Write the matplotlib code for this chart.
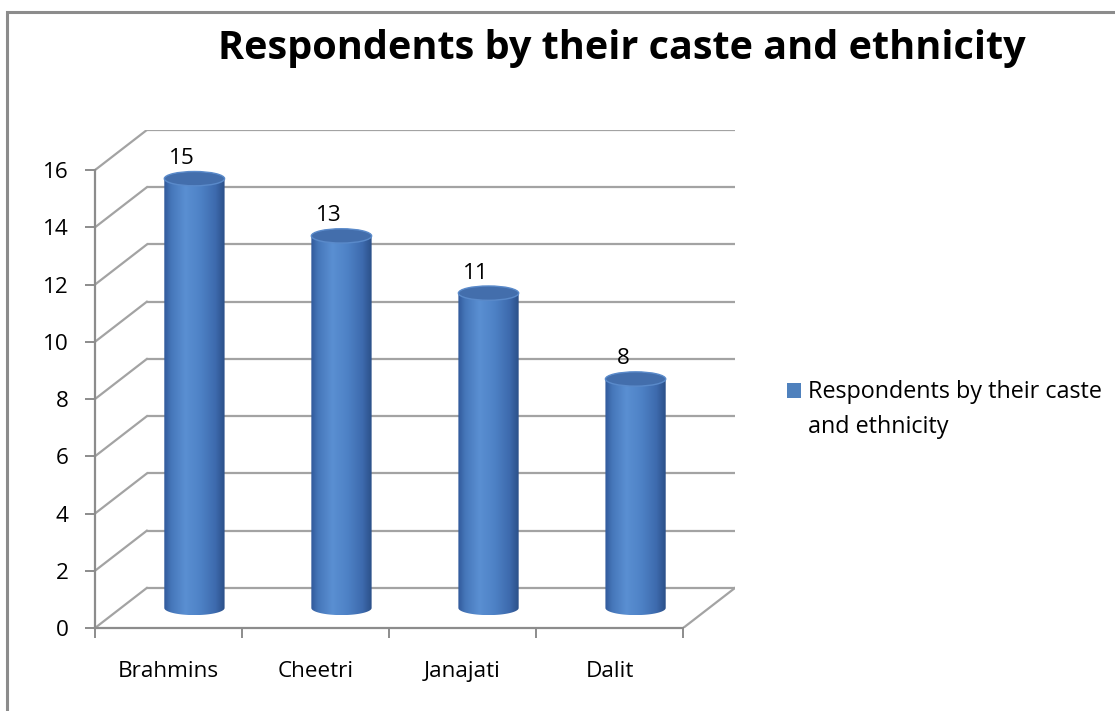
import numpy as np
import matplotlib
matplotlib.use("Agg")
import matplotlib.pyplot as plt
from matplotlib.patches import Ellipse, PathPatch, Rectangle
from matplotlib.path import Path
from matplotlib.colors import LinearSegmentedColormap

# ---------------- data ----------------
categories = ["Brahmins", "Cheetri", "Janajati", "Dalit"]
values = [15, 13, 11, 8]
yticks = [0, 2, 4, 6, 8, 10, 12, 14, 16]
title = "Respondents by their caste and ethnicity"
series_name = "Respondents by their caste\nand ethnicity"

# ---------------- style ----------------
FONT = ["Open Sans", "DejaVu Sans"]
plt.rcParams["font.family"] = FONT
DX = 0.3525      # depth offset in category units
DY = 1.4         # depth offset in value units
BW = 0.41        # cylinder width (category units)
EH = 0.5         # ellipse height (value units)
GRID = "#a3a3a3"
FS = 16.2

fig = plt.figure(figsize=(11.15, 7.11), dpi=100)
fig.patch.set_facecolor("white")

# outer chart border
fig.add_artist(Rectangle((7 / 1115, -0.05), 1.2, 1 - 12 / 711 + 0.05,
                         transform=fig.transFigure, fill=False,
                         edgecolor="#8c8c8c", lw=2.2))

ax = fig.add_axes([95 / 1115, (711 - 628) / 711, 640 / 1115, 498 / 711])
ax.set_facecolor("none")
n = len(categories)
xmin, xmax = -0.5, n - 0.5 + DX
ymin, ymax = 0, max(yticks) + DY

# back wall & side wall gridlines
for v in yticks:
    ax.plot([xmin + DX, xmax], [v + DY, v + DY], color=GRID, lw=1.6,
            solid_capstyle="butt", zorder=1)
    ax.plot([xmin, xmin + DX], [v, v + DY], color=GRID, lw=1.6, zorder=1)
# floor right edge
ax.plot([n - 0.5, n - 0.5 + DX], [0, DY], color=GRID, lw=1.6, zorder=1)

# cylinders
cmap = LinearSegmentedColormap.from_list(
    "cyl", [(0.0, "#31599a"), (0.12, "#4677ba"), (0.35, "#5a8fd2"),
            (0.6, "#4e82c6"), (0.85, "#3d6aad"), (1.0, "#2b4f88")])
grad = np.linspace(0, 1, 256).reshape(1, -1)
t = np.linspace(np.pi, 2 * np.pi, 60)
for i, v in enumerate(values):
    cx = i + DX / 2
    base = DY / 2
    top = v + DY / 2
    l, r = cx - BW / 2, cx + BW / 2
    verts = [(l, top), (l, base)]
    verts += [(cx + BW / 2 * np.cos(a), base + EH / 2 * np.sin(a)) for a in t]
    verts += [(r, top), (l, top)]
    codes = [Path.MOVETO] + [Path.LINETO] * (len(verts) - 2) + [Path.CLOSEPOLY]
    body = PathPatch(Path(verts, codes), facecolor="none", edgecolor="none",
                     zorder=3)
    ax.add_patch(body)
    im = ax.imshow(grad, cmap=cmap, aspect="auto",
                   extent=[l, r, base - EH / 2, top], zorder=3,
                   interpolation="bicubic")
    im.set_clip_path(body)
    ax.add_patch(Ellipse((cx, top), BW, EH, facecolor="#436eac",
                         edgecolor="#5a8aca", lw=1.0, zorder=4))
    ax.text(i + 0.09, v + DY, str(v), ha="center", va="center",
            fontsize=FS, color="black", zorder=5)

ax.set_xlim(xmin, xmax)
ax.set_ylim(ymin, ymax)

# axes
for s in ["top", "right"]:
    ax.spines[s].set_visible(False)
ax.spines["left"].set_bounds(0, max(yticks))
ax.spines["bottom"].set_bounds(-0.5, n - 0.5)
ax.spines["left"].set_color("#8c8c8c")
ax.spines["bottom"].set_color("#8c8c8c")
ax.spines["left"].set_linewidth(1.6)
ax.spines["bottom"].set_linewidth(1.6)

ax.set_yticks(yticks)
ax.set_yticklabels([str(v) for v in yticks], fontsize=FS)
ax.tick_params(axis="y", length=7, width=1.4, color="#8c8c8c", pad=12)
ax.set_xticks(np.arange(-0.5, n, 1.0))
ax.set_xticklabels([""] * (n + 1))
ax.set_xticks(np.arange(n), minor=True)
ax.set_xticklabels(categories, minor=True, fontsize=FS)
ax.tick_params(axis="x", which="major", length=7, width=1.4, color="#8c8c8c")
ax.tick_params(axis="x", which="minor", length=0, pad=24)

# title
fig.text(622 / 1115, 1 - 48 / 711, title, ha="center", va="center",
         fontsize=28.5, fontweight="bold", family=FONT)

# legend (square marker + wrapped label)
fig.add_artist(Rectangle((787 / 1115, 1 - 398 / 711), 14 / 1115, 15 / 711,
                         transform=fig.transFigure, facecolor="#4f81bd",
                         edgecolor="none"))
fig.text(808 / 1115, 1 - 380 / 711, series_name, ha="left", va="top",
         fontsize=16.8, linespacing=1.62, family=FONT)

fig.savefig("out.png", dpi=100, facecolor="white")
